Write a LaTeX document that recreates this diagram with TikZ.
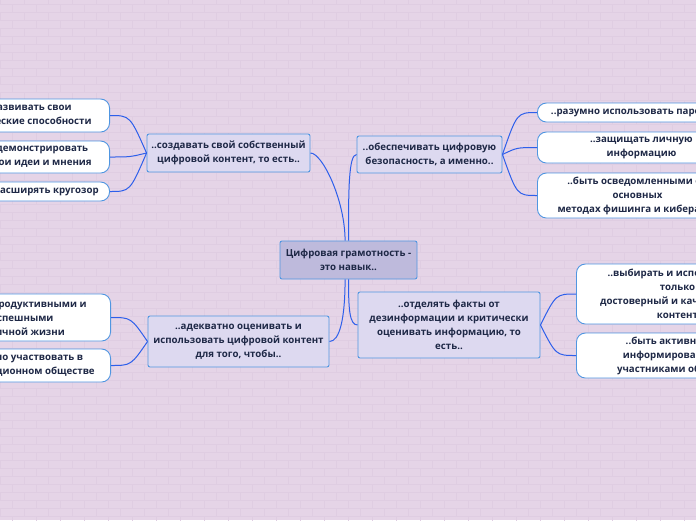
\documentclass[tikz,border=0pt]{standalone}
\usepackage{fontspec}
\setmainfont{Open Sans}
\definecolor{bgpink}{RGB}{229,212,231}
\definecolor{brickline}{RGB}{223,205,226}
\definecolor{linkblue}{RGB}{45,95,235}
\definecolor{boxline}{RGB}{80,150,225}
\definecolor{hubfill}{RGB}{190,186,220}
\definecolor{topicfill}{RGB}{221,217,240}
\definecolor{inkblue}{RGB}{30,40,70}

\begin{document}
\begin{tikzpicture}[x=1pt,y=-1pt,
    hub/.style={draw=boxline, fill=hubfill, rounded corners=2pt},
    topic/.style={draw=boxline, fill=topicfill, rounded corners=2pt},
    leaf/.style={draw=boxline, fill=white, rounded corners=9pt},
    link/.style={draw=linkblue, line width=1pt}]

        \useasboundingbox (0,0) rectangle (696,520);
        \clip (0,0) rectangle (696,520);

        % brick wall
        \fill[bgpink] (0,0) rectangle (696,520);
        \foreach \row in {-1,...,64} {
          \pgfmathsetmacro\off{mod(\row+1,2)*12}
          \draw[brickline, line width=0.5pt] (0,12+8*\row) -- (696,12+8*\row)
            \foreach \col in {-1,...,29} { (\off+24*\col,4+8*\row) -- ++(0,8) };
        }

        \begin{scope}[every node/.style={align=center, text=inkblue, line width=0.9pt,
            font=\bfseries\fontsize{9.7}{14}\selectfont}]
          \node[hub, minimum width=137pt, minimum height=38pt] (c) at (348.5,260) {Цифровая грамотность -\\это навык..};

          \node[topic, minimum width=163pt, minimum height=38pt] (tl) at (228.5,153) {..создавать свой собственный\\цифровой контент, то есть..};
          \node[topic, minimum width=145pt, minimum height=37pt] (tr) at (429.5,154.5) {..обеспечивать цифровую\\безопасность, а именно..};
          \node[topic, minimum width=181pt, minimum height=51pt] (bl) at (238.5,341.5) {..адекватно оценивать и\\использовать цифровой контент\\для того, чтобы..};
          \node[topic, minimum width=182pt, minimum height=66pt] (br) at (449,325) {..отделять факты от\\дезинформации и критически\\оценивать информацию, то\\есть..};

          \node[leaf, anchor=east, minimum width=162pt, minimum height=33pt] (l1) at (110,115.5) {..развивать свои\\творческие способности};
          \node[leaf, anchor=east, minimum width=140pt, minimum height=32pt] (l2) at (110,157) {..демонстрировать\\свои идеи и мнения};
          \node[leaf, anchor=east, minimum width=132pt, minimum height=19pt] (l3) at (110,191.5) {..расширять кругозор};
          \node[leaf, anchor=east, minimum width=176pt, minimum height=47pt] (l4) at (111,317.5) {..быть продуктивными и\\успешными\\в личной жизни};
          \node[leaf, anchor=east, minimum width=178pt, minimum height=33pt] (l5) at (111,365.5) {..активно участвовать в\\информационном обществе};

          \node[leaf, anchor=west, minimum width=190pt, minimum height=19pt] (r1) at (537,112.5) {..разумно использовать пароли};
          \node[leaf, anchor=west, minimum width=208pt, minimum height=31pt] (r2) at (537,147.5) {..защищать личную\\информацию};
          \node[leaf, anchor=west, minimum width=200pt, minimum height=45pt] (r3) at (537,195.5) {..быть осведомленными об\\основных\\методах фишинга и кибератак};
          \node[leaf, anchor=west, minimum width=202pt, minimum height=60pt] (r4) at (576,294) {..выбирать и использовать\\только\\достоверный и качественный\\контент};
          \node[leaf, anchor=west, minimum width=202pt, minimum height=45pt] (r5) at (576,355.5) {..быть активными и\\информированными\\участниками общества};
        \end{scope}

        % branches
        \draw[link] (c.100) .. controls +(0,-40) and +(12,0) .. (tl.east);
        \draw[link] (c.north) .. controls +(0,-50) and +(-8,0) .. (tr.west);
        \draw[link] (c.-100) .. controls +(0,40) and +(10,0) .. (bl.east);
        \draw[link] (c.south) .. controls +(0,30) and +(-8,0) .. (br.west);

        \foreach \n in {l1,l2,l3} \draw[link] (\n.east) .. controls +(20,0) .. (tl.west);
        \foreach \n in {l4,l5} \draw[link] (\n.east) .. controls +(20,0) .. (bl.west);
        \foreach \n in {r1,r2,r3} \draw[link] (\n.west) .. controls +(-20,0) .. (tr.east);
        \foreach \n in {r4,r5} \draw[link] (\n.west) .. controls +(-20,0) .. (br.east);

      \end{tikzpicture}
\end{document}
